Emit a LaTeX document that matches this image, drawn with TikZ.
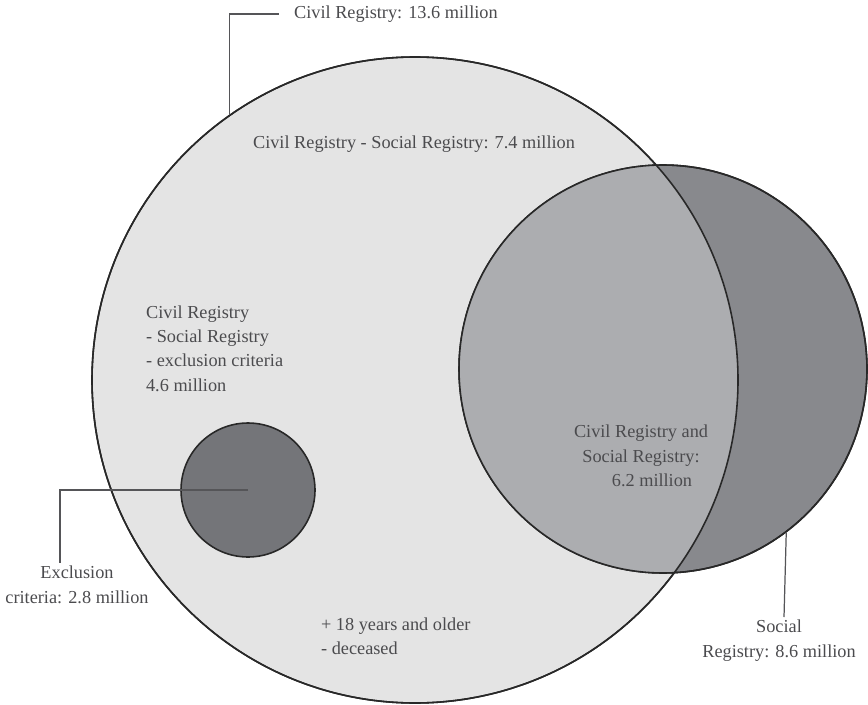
\documentclass[tikz,border=0pt]{standalone}
\usepackage{fontspec}
\setmainfont{Liberation Serif}
\usepackage{tikz}
\usetikzlibrary{positioning}
\usepackage{xcolor}
\definecolor{ink}{RGB}{40,40,40}
\definecolor{txt}{RGB}{75,75,78}
\definecolor{lead}{RGB}{85,85,88}
\definecolor{cCivil}{RGB}{228,228,228}
\definecolor{cBoth}{RGB}{172,173,176}
\definecolor{cSocial}{RGB}{136,137,141}
\definecolor{cExcl}{RGB}{116,117,121}
\tikzset{
  venn/.style={circle,draw=ink,line width=0.9pt,inner sep=0pt},
  rim/.style={draw=ink,line width=0.9pt},
  leader/.style={draw=lead,line width=0.7pt},
  lbl/.style={font=\fontsize{10.4}{13.9}\selectfont,text=txt,inner sep=1pt},
}

\begin{document}
\begin{tikzpicture}
  \useasboundingbox (0,0) rectangle (17.36,14.08);
  % the two registries
  \node[venn,fill=cCivil,minimum size=12.92cm]  (civil)  at (8.30,6.48) {};
  \node[venn,fill=cSocial,minimum size=8.16cm]  (social) at (13.26,6.70) {};
  \begin{scope}
    \clip (civil.center) circle (6.46);
    \fill[cBoth] (social.center) circle (4.08);
  \end{scope}
  \draw[rim] (civil.center) circle (6.46) (social.center) circle (4.08);
  \node[venn,fill=cExcl,minimum size=2.68cm] (excl) at (4.96,4.28) {};

  % texts inside the circles
  \node[lbl] (civmin) at (8.28,11.20)
     {Civil Registry - Social Registry: 7.4 million};
  \node[lbl,align=left,anchor=west] (rest) at (2.88,7.11)
     {Civil Registry\\- Social Registry\\- exclusion criteria\\4.6 million};
  \node[lbl,align=center] (both) at (12.82,4.96)
     {Civil Registry and\\Social Registry:\\\hspace*{1.2em}6.2 million};
  \node[lbl,align=left,anchor=west] (age) at (6.38,1.36)
     {+ 18 years and older\\- deceased};

  % call-outs
  \coordinate (civend) at (5.58,13.80);
  \node[lbl,anchor=west,right=0.26cm of civend] (civlab)
     {Civil Registry: 13.6 million};
  \draw[leader] (civil.125.6) |- (civend);

  \coordinate (exfoot) at (1.20,2.82);
  \node[lbl,align=center,below=0.02cm of exfoot,xshift=0.34cm] (exlab)
     {Exclusion\\criteria: 2.8 million};
  \draw[leader] (excl.center) -| (exfoot);

  \coordinate (socfoot) at (15.68,1.74);
  \node[lbl,align=center,below=0.02cm of socfoot,xshift=-0.10cm] (soclab)
     {Social\\Registry: 8.6 million};
  \draw[leader] (social.-53.9) -- (socfoot);
\end{tikzpicture}
\end{document}
